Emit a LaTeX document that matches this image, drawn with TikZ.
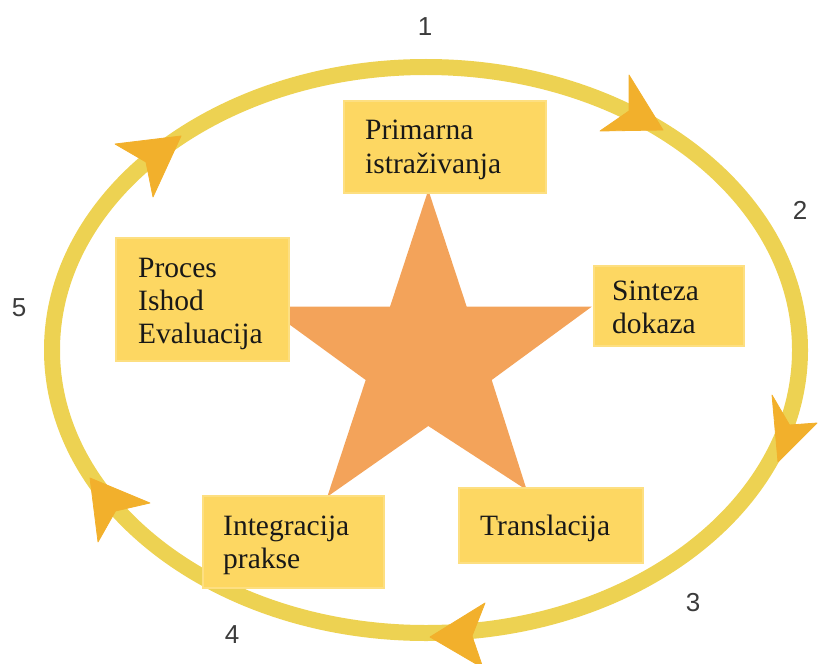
\documentclass[tikz,border=0pt]{standalone}
\usepackage{fontspec}
\setmainfont{Liberation Serif}
\newfontfamily\numfont{Liberation Sans}
\definecolor{ringc}{RGB}{237,210,82}
\definecolor{arrowc}{RGB}{242,176,44}
\definecolor{starc}{RGB}{243,163,90}
\definecolor{boxc}{RGB}{253,215,98}
\definecolor{txtc}{RGB}{24,24,24}
\begin{document}
\begin{tikzpicture}[x=1pt,y=-1pt,
  ringline/.style={draw=ringc, line width=16pt},
  arrowhd/.style={fill=arrowc, draw=arrowc, line width=0.8pt, line join=round},
  starshape/.style={fill=starc},
  boxnode/.style={rectangle, fill=boxc, draw=boxc!80!white, line width=2pt, inner sep=0pt, anchor=north west},
  lbl/.style={inner sep=0pt, anchor=base west, text=txtc, font=\fontsize{29.5}{33}\selectfont},
  num/.style={inner sep=0pt, text=txtc!85!white, font=\numfont\fontsize{26}{30}\selectfont}
]
\useasboundingbox (0,0) rectangle (818,663);
% ring
\draw[ringline] (426,350) ellipse [x radius=374, y radius=283];
% arrowheads (tip, wing, notch, wing)
\fill[arrowhd] (663,130) -- (629,75) -- (629,111) -- (600,131) -- cycle;
\fill[arrowhd] (778,462) -- (772,395) -- (789.5,425) -- (817,423) -- cycle;
\fill[arrowhd] (430,637) -- (485,603) -- (472,636) -- (483,668) -- cycle;
\fill[arrowhd] (90,478) -- (150,503) -- (115.5,511) -- (98,542) -- cycle;
\fill[arrowhd] (181,136) -- (115,144) -- (146,162) -- (153,197) -- cycle;
% star
\fill[starshape] (428.3,190) -- (466.7,306.7) -- (591.7,306.7) -- (491.7,380) -- (526.7,490)
  -- (428.3,426) -- (327.3,496.7) -- (365.7,380) -- (265,306.7) -- (390,306.7) -- cycle;
% boxes
\node[boxnode, minimum width=202, minimum height=92] (bprim) at (343,100) {};
\node[boxnode, minimum width=150, minimum height=80] (bsint) at (593,265) {};
\node[boxnode, minimum width=173, minimum height=123] (bproc) at (115,237) {};
\node[boxnode, minimum width=181, minimum height=92] (bintg) at (202,495) {};
\node[boxnode, minimum width=184, minimum height=75] (btran) at (458,487) {};
% texts
\node[lbl] (tprim1) at (365,140) {Primarna};
\node[lbl] (tprim2) at (365,173) {istraživanja};
\node[lbl] (tsint1) at (612,300) {Sinteza};
\node[lbl] (tsint2) at (612,333) {dokaza};
\node[lbl] (tproc1) at (138,277) {Proces};
\node[lbl] (tproc2) at (138,310) {Ishod};
\node[lbl] (tproc3) at (138,343) {Evaluacija};
\node[lbl] (tintg1) at (223,535) {Integracija};
\node[lbl] (tintg2) at (223,568) {prakse};
\node[lbl] (ttran1) at (480,535) {Translacija};
% numbers
\node[num] (n1) at (425,27) {1};
\node[num] (n2) at (800,210) {2};
\node[num] (n3) at (693,603) {3};
\node[num] (n4) at (232,635) {4};
\node[num] (n5) at (19,308) {5};
\end{tikzpicture}
\end{document}
